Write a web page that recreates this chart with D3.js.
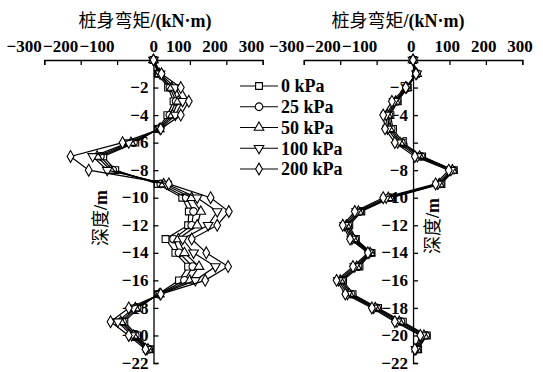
<!DOCTYPE html>
<html>
<head>
<meta charset="utf-8">
<script src="https://cdn.jsdelivr.net/npm/d3@7"></script>
<style>
body { margin: 0; background: #fff; }
text { font-family: "Liberation Serif", "Noto Sans CJK SC", serif; fill: #000; }
</style>
</head>
<body>
<script>
var depths = [0, -1, -2, -3, -4, -5, -6, -7, -8, -9, -10, -11, -12, -13, -14, -15, -16, -17, -18, -19, -20, -21];
var loads = ["0 kPa", "25 kPa", "50 kPa", "100 kPa", "200 kPa"];
var xTicks = [-300, -200, -100, 0, 100, 200, 300];
var yTicks = [-2, -4, -6, -8, -10, -12, -14, -16, -18, -20, -22];

// left pile, moment per load (kN·m) at each depth
var left0   = [0, 12, 40, 55, 38, 12, -50, -138, -105, 12, 79, 97, 95, 33, 60, 95, 70, 12, -40, -80, -45, -10];
var left25  = [0, 15, 45, 62, 45, 14, -55, -146, -112, 20, 90, 110, 105, 55, 70, 108, 85, 14, -45, -85, -50, -13];
var left50  = [0, 16, 50, 68, 52, 16, -62, -155, -118, 28, 105, 130, 120, 68, 85, 125, 100, 16, -50, -90, -55, -15];
var left100 = [0, 18, 60, 80, 60, 18, -68, -167, -127, 36, 120, 175, 150, 80, 110, 170, 115, 18, -55, -98, -60, -18];
var left200 = [0, 22, 75, 97, 75, 20, -85, -228, -178, 42, 157, 207, 175, 105, 145, 205, 142, 20, -68, -118, -68, -22];

// right pile
var right0   = [0, 8, -15, -42, -62, -55, -28, 25, 112, 78, -60, -142, -175, -157, -114, -147, -192, -166, -96, -28, 38, 14];
var right25  = [0, 9, -16, -45, -66, -60, -32, 22, 110, 75, -64, -146, -179, -160, -116, -151, -196, -170, -100, -33, 35, 12];
var right50  = [0, 10, -17, -48, -70, -65, -36, 18, 108, 72, -68, -150, -183, -164, -118, -155, -200, -175, -104, -38, 30, 10];
var right100 = [0, 10, -18, -52, -74, -70, -42, 12, 104, 68, -74, -155, -188, -168, -121, -160, -205, -180, -108, -44, 25, 8];
var right200 = [0, 8, -20, -58, -82, -77, -50, 5, 98, 62, -82, -160, -193, -173, -124, -165, -210, -186, -113, -50, 20, 5];

var W = 543, H = 372;
var svg = d3.select("body").append("svg")
	.attr("width", W)
	.attr("height", H);

var y = d3.scaleLinear().domain([0, -22]).range([60, 363]);

var symbols = [d3.symbolSquare, d3.symbolCircle, d3.symbolTriangle, d3.symbolTriangle, d3.symbolDiamond];
var symSize = [46, 46, 40, 40, 40];
var symRot = [0, 0, 0, 180, 0];

// chinese part plain, latin part bold
function mixedLabel(sel, cn, lat) {
	sel.append("tspan").attr("font-weight", "normal").text(cn);
	sel.append("tspan").attr("font-weight", "bold").text(lat);
}

function drawPanel(x0, x1, series, opts) {
	var x = d3.scaleLinear().domain([-300, 300]).range([x0, x1]);
	var g = svg.append("g");

	// x axis on top, ticks pointing down
	var xa = g.append("g")
		.attr("transform", "translate(0," + y(0) + ")")
		.call(d3.axisTop(x).tickValues(xTicks).tickSize(-5).tickPadding(8)
			.tickFormat(function(d) { return d < 0 ? "\u2212" + (-d) : d; }));
	xa.select(".domain").attr("stroke", "#000").attr("stroke-width", 1.3);
	xa.selectAll(".tick line").attr("stroke", "#000").attr("stroke-width", 1.3)
		.attr("opacity", function(d) { return d === 0 ? 0 : 1; });
	xa.selectAll(".tick text")
		.attr("font-size", 17)
		.attr("font-family", "Liberation Serif")
		.attr("font-weight", "bold")
		.attr("text-anchor", "end")
		.attr("dx", function(d) { return d < 0 ? opts.dxNeg : (d === 0 ? opts.dxZero : opts.dxPos); });

	// y axis at zero moment, ticks pointing right
	var ya = g.append("g")
		.attr("transform", "translate(" + x(0) + ",0)")
		.call(d3.axisLeft(y).tickValues(yTicks).tickSize(-5).tickPadding(5)
			.tickFormat(function(d) { return "\u2212" + (-d); }));
	ya.select(".domain").attr("stroke", "#000").attr("stroke-width", 1.3);
	ya.selectAll(".tick line").attr("stroke", "#000").attr("stroke-width", 1.3);
	ya.selectAll(".tick text")
		.attr("font-size", 17)
		.attr("font-family", "Liberation Serif")
		.attr("font-weight", "bold")
		.attr("dy", "0.3em");

	var line = d3.line()
		.x(function(d) { return x(d[0]); })
		.y(function(d) { return y(d[1]); });

	series.forEach(function(vals, i) {
		var pts = vals.map(function(v, k) { return [v, depths[k]]; });
		g.append("path")
			.datum(pts)
			.attr("d", line)
			.attr("fill", "none")
			.attr("stroke", "#000")
			.attr("stroke-width", 1.2);
		g.selectAll(".m" + i)
			.data(pts)
			.enter().append("path")
			.attr("class", "m" + i)
			.attr("d", d3.symbol().type(symbols[i]).size(symSize[i]))
			.attr("transform", function(d) {
				return "translate(" + x(d[0]) + "," + y(d[1]) + ") rotate(" + symRot[i] + ")";
			})
			.attr("fill", "#fff")
			.attr("stroke", "#000")
			.attr("stroke-width", 1.1);
	});

	// titles
	g.append("text")
		.attr("x", opts.titleX)
		.attr("y", 27)
		.attr("text-anchor", "middle")
		.attr("font-size", 18)
		.call(mixedLabel, "桩身弯矩", "/(kN·m)");
	g.append("text")
		.attr("transform", "translate(" + opts.ylabX + "," + opts.ylabY + ") rotate(-90)")
		.attr("text-anchor", "middle")
		.attr("dy", "0.35em")
		.attr("font-size", 18)
		.call(mixedLabel, "深度", "/m");
}

drawPanel(44.3, 262.7, [left0, left25, left50, left100, left200],
	{dxNeg: -3, dxZero: 4, dxPos: 1, titleX: 145, ylabX: 101, ylabY: 218});
drawPanel(303.8, 522.3, [right0, right25, right50, right100, right200],
	{dxNeg: 0, dxZero: 2, dxPos: 10, titleX: 398, ylabX: 433, ylabY: 226});

// legend
var legend = svg.append("g");
loads.forEach(function(name, i) {
	var ly = 86 + i * 20.75;
	var row = legend.append("g").attr("transform", "translate(0," + ly + ")");
	row.append("line")
		.attr("x1", 240).attr("x2", 278)
		.attr("stroke", "#000").attr("stroke-width", 1.2);
	row.append("path")
		.attr("d", d3.symbol().type(symbols[i]).size(symSize[i]))
		.attr("transform", "translate(259,0) rotate(" + symRot[i] + ")")
		.attr("fill", "#fff")
		.attr("stroke", "#000")
		.attr("stroke-width", 1.1);
	row.append("text")
		.attr("x", 281)
		.attr("dy", "0.35em")
		.attr("font-size", 18)
		.attr("font-weight", "bold")
		.text(name);
});
</script>
</body>
</html>
